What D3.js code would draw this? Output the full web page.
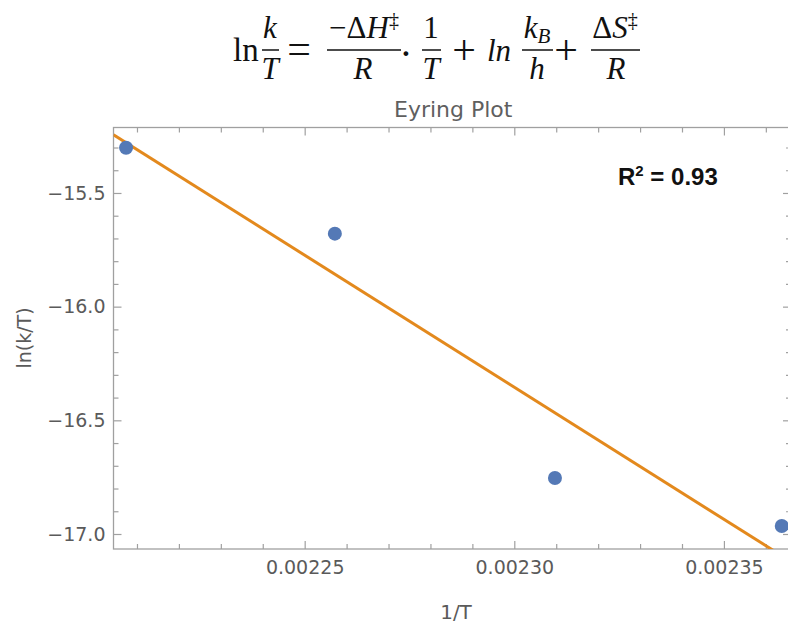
<!DOCTYPE html>
<html>
<head>
<meta charset="utf-8">
<script src="https://cdn.jsdelivr.net/npm/d3@7"></script>
<style>
  html, body { margin: 0; padding: 0; background: #fff; }
  svg { display: block; }
</style>
</head>
<body>
<svg id="chart" width="788" height="623"></svg>
<script>
// ---- data ----
const invT = [0.0022074, 0.0022572, 0.0023097, 0.0023638];
const lnKT = [-15.301, -15.679, -16.754, -16.965];
const xMajorTicks = [0.00225, 0.00230, 0.00235];
const xTickLabels = ["0.00225", "0.00230", "0.00235"];
const yMajorTicks = [-17.0, -16.5, -16.0, -15.5];
const yTickLabels = ["\u221217.0", "\u221216.5", "\u221216.0", "\u221215.5"];
const xDomain = [0.0022044, 0.002366];
const yDomain = [-17.066, -15.212];
const rSquaredLabel = "0.93";

// ---- layout ----
const svg = d3.select("#chart");
const L = 113.5, R = 791, T = 127.5, B = 549;
const x = d3.scaleLinear().domain(xDomain).range([L, R]);
const y = d3.scaleLinear().domain(yDomain).range([B, T]);
const axisColor = "#a0a0a0";
const labelColor = "#5a5a5a";
const tickFont = "DejaVu Sans, sans-serif";

// minor ticks
const xMinor = d3.range(221, 237).map(v => v / 100000).filter(v => !xMajorTicks.some(m => Math.abs(m - v) < 1e-9));
const yMinor = d3.range(-170, -152).map(v => v / 10).filter(v => !yMajorTicks.some(m => Math.abs(m - v) < 1e-9));

function styleAxis(g) {
  g.select(".domain").remove();
  g.selectAll(".tick line").attr("stroke", axisColor).attr("stroke-width", 1.2);
  g.selectAll(".tick text").attr("fill", labelColor).attr("font-family", tickFont).attr("font-size", 19);
}

// bottom axis
svg.append("g").attr("transform", `translate(0,${B})`)
  .call(d3.axisBottom(x).tickValues(xMajorTicks).tickFormat((d, i) => xTickLabels[i]).tickSize(-8).tickPadding(12))
  .call(styleAxis);
svg.append("g").attr("transform", `translate(0,${B})`)
  .call(d3.axisBottom(x).tickValues(xMinor).tickFormat("").tickSize(-5))
  .call(styleAxis);
// top axis (ticks only)
svg.append("g").attr("transform", `translate(0,${T})`)
  .call(d3.axisTop(x).tickValues(xMajorTicks).tickFormat("").tickSize(-8))
  .call(styleAxis);
svg.append("g").attr("transform", `translate(0,${T})`)
  .call(d3.axisTop(x).tickValues(xMinor).tickFormat("").tickSize(-5))
  .call(styleAxis);
// left axis
svg.append("g").attr("transform", `translate(${L},0)`)
  .call(d3.axisLeft(y).tickValues(yMajorTicks).tickFormat((d, i) => yTickLabels[i]).tickSize(-8).tickPadding(8))
  .call(styleAxis);
svg.append("g").attr("transform", `translate(${L},0)`)
  .call(d3.axisLeft(y).tickValues(yMinor).tickFormat("").tickSize(-5))
  .call(styleAxis);
// right axis (ticks only)
svg.append("g").attr("transform", `translate(${R},0)`)
  .call(d3.axisRight(y).tickValues(yMajorTicks).tickFormat("").tickSize(-8))
  .call(styleAxis);
svg.append("g").attr("transform", `translate(${R},0)`)
  .call(d3.axisRight(y).tickValues(yMinor).tickFormat("").tickSize(-5))
  .call(styleAxis);

// frame
svg.append("rect").attr("x", L).attr("y", T).attr("width", R - L).attr("height", B - T)
  .attr("fill", "none").attr("stroke", axisColor).attr("stroke-width", 1.3);

// regression line computed from the data
const n = invT.length;
const mx = d3.mean(invT), my = d3.mean(lnKT);
let sxy = 0, sxx = 0;
for (let i = 0; i < n; i++) { sxy += (invT[i] - mx) * (lnKT[i] - my); sxx += (invT[i] - mx) ** 2; }
const slope = sxy / sxx, intercept = my - slope * mx;
const fitX = xDomain;

svg.append("clipPath").attr("id", "plotclip")
  .append("rect").attr("x", L).attr("y", T).attr("width", R - L).attr("height", B - T);

svg.append("path")
  .datum(fitX.map(v => [v, intercept + slope * v]))
  .attr("clip-path", "url(#plotclip)")
  .attr("d", d3.line().x(d => x(d[0])).y(d => y(d[1])))
  .attr("fill", "none").attr("stroke", "#e3891d").attr("stroke-width", 3);

// points
svg.append("g").selectAll("circle")
  .data(invT.map((v, i) => [v, lnKT[i]]))
  .join("circle")
  .attr("cx", d => x(d[0])).attr("cy", d => y(d[1])).attr("r", 7)
  .attr("fill", "#5479b6");

// title & axis labels
svg.append("text").attr("x", (L + R) / 2 + 1).attr("y", 117).attr("text-anchor", "middle")
  .attr("font-family", tickFont).attr("font-size", 22).attr("fill", "#5f5f5f").text("Eyring Plot");
svg.append("text").attr("x", 456).attr("y", 619).attr("text-anchor", "middle")
  .attr("font-family", tickFont).attr("font-size", 20).attr("fill", labelColor).text("1/T");
svg.append("text").attr("transform", "translate(31,338) rotate(-90)").attr("text-anchor", "middle")
  .attr("font-family", tickFont).attr("font-size", 19).attr("fill", labelColor).text("ln(k/T)");

// R^2 annotation
const r2 = svg.append("text").attr("x", 618).attr("y", 185)
  .attr("font-family", "Liberation Sans, Arial, sans-serif").attr("font-weight", "bold")
  .attr("font-size", 24).attr("fill", "#111");
r2.append("tspan").text("R");
r2.append("tspan").attr("font-size", 15).attr("dy", -9).text("2");
r2.append("tspan").attr("dy", 9).text(" = " + rSquaredLabel);

// ---- equation ----
const eq = svg.append("g").attr("font-family", "Liberation Serif, Times New Roman, serif").attr("fill", "#111");
const axisY = 50, numBase = 38, denBase = 79, fs = 31;
function t(xc, yb, anchor, italic, size) {
  return eq.append("text").attr("x", xc).attr("y", yb).attr("text-anchor", anchor)
    .attr("font-style", italic ? "italic" : "normal").attr("font-size", size || fs);
}
function bar(x1, x2) {
  eq.append("line").attr("x1", x1).attr("x2", x2).attr("y1", axisY).attr("y2", axisY)
    .attr("stroke", "#111").attr("stroke-width", 1.5);
}
t(233, 61, "start", false, 33).text("ln");
t(270, numBase, "middle", true).text("k");
bar(262, 279);
t(270, denBase, "middle", true).text("T");
t(299, 63, "middle", false, 42).text("=");
// -ΔH‡ / R
{
  const tx = t(364, numBase, "middle", false);
  tx.append("tspan").text("\u2212\u0394");
  tx.append("tspan").attr("font-style", "italic").text("H");
  tx.append("tspan").attr("font-size", 20).attr("dy", -11).text("\u2021");
}
bar(327, 401);
t(363, denBase, "middle", true).text("R");
t(406, 67, "middle", false, 40).text("\u00b7");
t(431, numBase, "middle", false).text("1");
bar(422, 441);
t(431, denBase, "middle", true).text("T");
t(464, 64, "middle", false, 42).text("+");
t(487, 61, "start", true).text("ln");
{
  const tx = t(537, numBase, "middle", true);
  tx.append("tspan").text("k");
  tx.append("tspan").attr("font-size", 21).attr("dy", 5).text("B");
}
bar(522, 553);
t(537, denBase, "middle", true).text("h");
t(566, 64, "middle", false, 42).text("+");
{
  const tx = t(615, numBase, "middle", false);
  tx.append("tspan").text("\u0394");
  tx.append("tspan").attr("font-style", "italic").text("S");
  tx.append("tspan").attr("font-size", 20).attr("dy", -11).text("\u2021");
}
bar(591, 640);
t(616, denBase, "middle", true).text("R");
</script>
</body>
</html>
